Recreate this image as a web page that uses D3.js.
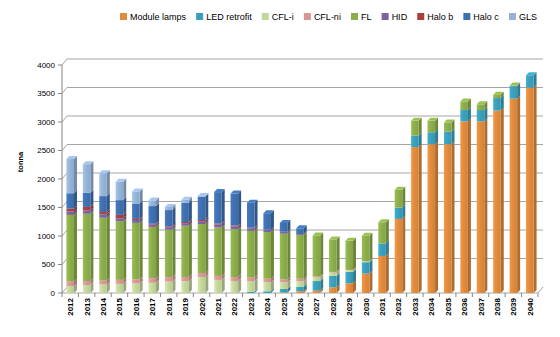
<!DOCTYPE html>
<html><head><meta charset="utf-8">
<script src="https://cdn.jsdelivr.net/npm/d3@7"></script>
<style>html,body{margin:0;padding:0;background:#fff;}svg{display:block;}</style>
</head><body>
<svg id="c" width="560" height="337"></svg>
<script>
const years = ["2012","2013","2014","2015","2016","2017","2018","2019","2020","2021","2022","2023","2024","2025","2026","2027","2028","2029","2030","2031","2032","2033","2034","2035","2036","2037","2038","2039","2040"];
const seriesNames = ["Module lamps","LED retrofit","CFL-i","CFL-ni","FL","HID","Halo b","Halo c","GLS"];
const moduleLamps = [0,0,0,0,0,0,0,0,0,0,0,0,0,10,30,40,100,170,340,650,1300,2560,2610,2610,3010,3010,3200,3410,3600];
const ledRetrofit = [0,0,0,0,0,0,0,0,0,0,0,20,30,60,80,170,200,200,200,220,200,200,210,220,200,200,220,220,220];
const cflI        = [120,140,150,160,170,180,200,210,280,230,210,190,160,120,100,70,60,30,15,0,0,0,0,0,0,0,0,0,0];
const cflNi       = [80,70,70,70,70,80,80,70,70,70,70,60,60,50,40,15,10,5,0,0,0,0,0,0,0,0,0,0,0];
const fl          = [1170,1180,1100,1030,990,900,830,900,860,850,840,820,820,800,770,715,570,510,450,370,310,260,200,160,150,100,60,10,0];
const hid         = [60,60,60,50,50,40,45,45,50,50,50,45,35,30,15,0,0,0,0,0,0,0,0,0,0,0,0,0,0];
const haloB       = [50,60,40,60,20,15,15,20,20,20,15,10,5,5,0,0,0,0,0,0,0,0,0,0,0,0,0,0,0];
const haloC       = [270,250,280,260,270,310,285,340,410,550,560,440,290,155,100,0,0,0,0,0,0,0,0,0,0,0,0,0,0];
const gls         = [600,500,400,320,210,100,55,50,10,0,0,0,0,0,0,0,0,0,0,0,0,0,0,0,0,0,0,0,0];
const yTicks = [0,500,1000,1500,2000,2500,3000,3500,4000];
const colors = ["#E08A3C","#3A9FBB","#C3D69B","#D99694","#8CAD4B","#7B62A0","#A8403D","#3F70B0","#95B3D7"];

const seriesData = [moduleLamps,ledRetrofit,cflI,cflNi,fl,hid,haloB,haloC,gls];
const table = years.map((y,i)=>{const o={year:y}; seriesNames.forEach((s,k)=>o[s]=seriesData[k][i]); return o;});
const stacked = d3.stack().keys(seriesNames)(table);

const svg = d3.select("#c");
const x = d3.scaleBand().domain(years).range([62,538]).paddingInner(0.54).paddingOuter(0.27);
const y = d3.scaleLinear().domain([0,4000]).range([293,65]);
const wdx = 5, wdy = -6; // back wall offset
const bdx = 3, bdy = -3; // bar depth

const defs = svg.append("defs");
colors.forEach((c,k)=>{
  const lg = defs.append("linearGradient").attr("id","gr"+k).attr("x1","0").attr("x2","1").attr("y1","0").attr("y2","0");
  lg.append("stop").attr("offset","0").attr("stop-color",d3.color(c).brighter(0.25).formatHex());
  lg.append("stop").attr("offset","0.5").attr("stop-color",c);
  lg.append("stop").attr("offset","1").attr("stop-color",d3.color(c).darker(0.15).formatHex());
});

const g = svg.append("g");
yTicks.forEach(t=>{
  if (t>0) {
    g.append("path").attr("d",`M62,${y(t)}L${62+wdx},${y(t)+wdy}L${538+wdx},${y(t)+wdy}`)
      .attr("fill","none").attr("stroke","#A6A6A6").attr("stroke-width",1);
  }
});
g.append("path").attr("d",`M62,${y(0)}L538,${y(0)}L${538+wdx},${y(0)+wdy}`).attr("fill","none").attr("stroke","#A6A6A6");
g.append("path").attr("d",`M62,${y(0)}L${62+wdx},${y(0)+wdy}`).attr("fill","none").attr("stroke","#A6A6A6");

const bw = x.bandwidth();
stacked.forEach((layer,k)=>{
  const c = d3.color(colors[k]);
  const side = c.darker(0.7).formatHex();
  const topc = c.brighter(0.3).formatHex();
  layer.forEach((d,i)=>{
    const v0=d[0], v1=d[1];
    if (v1-v0<=0) return;
    const x0 = x(years[i]);
    const yt = y(v1), yb = y(v0);
    g.append("path").attr("d",`M${x0+bw},${yb}L${x0+bw+bdx},${yb+bdy}L${x0+bw+bdx},${yt+bdy}L${x0+bw},${yt}Z`).attr("fill",side);
    g.append("rect").attr("x",x0).attr("y",yt).attr("width",bw).attr("height",yb-yt).attr("fill",`url(#gr${k})`);
    const total = seriesNames.reduce((a,s)=>a+d.data[s],0);
    if (Math.abs(total - v1) < 1e-6) {
      g.append("path").attr("d",`M${x0},${yt}L${x0+bdx},${yt+bdy}L${x0+bw+bdx},${yt+bdy}L${x0+bw},${yt}Z`).attr("fill",topc);
    }
  });
});

const ya = svg.append("g");
ya.append("line").attr("x1",62).attr("x2",62).attr("y1",y(4000)).attr("y2",y(0)).attr("stroke","#868686");
yTicks.forEach(t=>{
  ya.append("line").attr("x1",58).attr("x2",62).attr("y1",y(t)).attr("y2",y(t)).attr("stroke","#868686");
  ya.append("text").attr("x",55).attr("y",y(t)).attr("dy","0.35em").attr("text-anchor","end")
    .attr("font-family","Liberation Sans, Arial, sans-serif").attr("font-size","8px").attr("fill","#000").text(t);
});
const xa = svg.append("g");
years.forEach((yr,i)=>{
  const bx = 62 + i*(476/29);
  xa.append("line").attr("x1",bx).attr("x2",bx).attr("y1",y(0)).attr("y2",y(0)+4).attr("stroke","#868686");
  const cx = x(yr)+bw/2;
  xa.append("text").attr("transform",`translate(${cx+3},${y(0)+5}) rotate(-90)`).attr("text-anchor","end")
    .attr("font-family","Liberation Sans, Arial, sans-serif").attr("font-size","8px").attr("font-weight","bold").attr("fill","#000").text(yr);
});
xa.append("line").attr("x1",538).attr("x2",538).attr("y1",y(0)).attr("y2",y(0)+4).attr("stroke","#868686");

svg.append("text").attr("transform","translate(23,162) rotate(-90)").attr("text-anchor","middle")
  .attr("font-family","Liberation Sans, Arial, sans-serif").attr("font-size","7.5px").attr("font-weight","bold").text("tonna");

// legend: fit between 120 and 537
const leg = svg.append("g").attr("font-family","Liberation Sans, Arial, sans-serif").attr("font-size","9px");
const items = seriesNames.map((s,k)=>{
  const t = leg.append("text").attr("y",17).attr("dy","0.35em").text(s);
  return {t, w: t.node().getComputedTextLength(), k};
});
const sq = 7, sqGap = 3;
const textTotal = d3.sum(items, d=>d.w);
const gap = (537 - 120 - textTotal - items.length*(sq+sqGap)) / (items.length-1);
let lx = 120;
items.forEach(it=>{
  leg.append("rect").attr("x",lx).attr("y",13).attr("width",sq).attr("height",sq).attr("fill",colors[it.k]);
  it.t.attr("x",lx+sq+sqGap);
  lx += sq + sqGap + it.w + gap;
});
</script>
</body></html>
